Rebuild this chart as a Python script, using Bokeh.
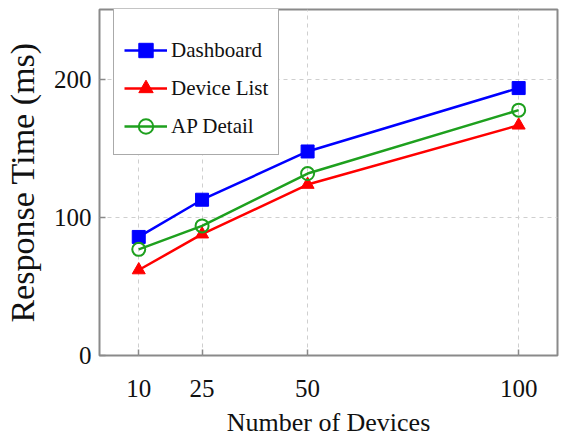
from bokeh.plotting import figure
from bokeh.models import FixedTicker, Range1d, Legend, LegendItem
from bokeh.embed import file_html
from bokeh.resources import INLINE

devices = [10, 25, 50, 100]
dashboard = [86, 113, 148, 194]
device_list = [62, 88, 124, 167]
ap_detail = [77, 94, 132, 178]
x_ticks = [10, 25, 50, 100]
y_ticks = [0, 100, 200]

FONT = "Liberation Serif"

p = figure(width=563, height=448, output_backend="svg", toolbar_location=None,
           x_range=Range1d(0.7, 109.2), y_range=Range1d(0, 251))
p.min_border_left = 99
p.min_border_right = 6
p.min_border_top = 9
p.min_border_bottom = 93
p.background_fill_color = "white"
p.border_fill_color = "white"
p.outline_line_color = "#8a8a8a"
p.outline_line_width = 2

blue = "#0000ff"
red = "#ff0000"
green = "#1ea01e"

r1l = p.line(devices, dashboard, line_color=blue, line_width=2.5)
r1m = p.scatter(devices, dashboard, marker="square", size=13, fill_color=blue, line_color=blue)
r2l = p.line(devices, device_list, line_color=red, line_width=2.5)
r2m = p.scatter(devices, device_list, marker="triangle", size=13, fill_color=red, line_color=red)
r3l = p.line(devices, ap_detail, line_color=green, line_width=2.5)
r3m = p.scatter(devices, ap_detail, marker="circle", size=13, fill_color="white", fill_alpha=0,
                line_color=green, line_width=2)

for ax in (p.xaxis[0], p.yaxis[0]):
    ax.axis_line_color = None
    ax.major_tick_in = 6
    ax.major_tick_out = 0
    ax.minor_tick_line_color = None
    ax.major_tick_line_color = "#8a8a8a"
    ax.major_tick_line_width = 1.5
    ax.major_label_text_font = FONT
    ax.major_label_text_font_size = "25px"
    ax.major_label_text_color = "#111111"
    ax.axis_label_text_font = FONT
    ax.axis_label_text_font_style = "normal"
    ax.axis_label_text_color = "#111111"

p.xaxis.ticker = FixedTicker(ticks=x_ticks)
p.yaxis.ticker = FixedTicker(ticks=y_ticks)
p.xaxis.axis_label = "Number of Devices"
p.yaxis.axis_label = "Response Time (ms)"
p.xaxis.axis_label_text_font_size = "26px"
p.yaxis.axis_label_text_font_size = "34px"
p.xaxis.major_label_standoff = 24
p.xaxis.axis_label_standoff = 8
p.yaxis.major_label_standoff = 8
p.yaxis.axis_label_standoff = 10

p.xgrid.ticker = FixedTicker(ticks=x_ticks)
p.ygrid.ticker = FixedTicker(ticks=y_ticks)
for g in (p.xgrid[0], p.ygrid[0]):
    g.grid_line_color = "#cfcfcf"
    g.grid_line_dash = "4 4"
    g.grid_line_width = 1

legend = Legend(items=[
    LegendItem(label="Dashboard", renderers=[r1l, r1m]),
    LegendItem(label="Device List", renderers=[r2l, r2m]),
    LegendItem(label="AP Detail", renderers=[r3l, r3m]),
], location=(14, 200))
legend.title = " "
legend.title_text_font_size = "10px"
legend.title_standoff = 2
legend.label_text_font = FONT
legend.label_text_font_size = "21px"
legend.label_text_color = "#111111"
legend.glyph_width = 43
legend.glyph_height = 36
legend.label_height = 36
legend.label_standoff = 4
legend.spacing = 2
legend.padding = 10
legend.margin = 0
legend.border_line_color = "#555555"
legend.border_line_width = 1.5
legend.background_fill_color = "white"
legend.background_fill_alpha = 1
p.add_layout(legend, "center")

open("out.html", "w").write(file_html(p, INLINE))
